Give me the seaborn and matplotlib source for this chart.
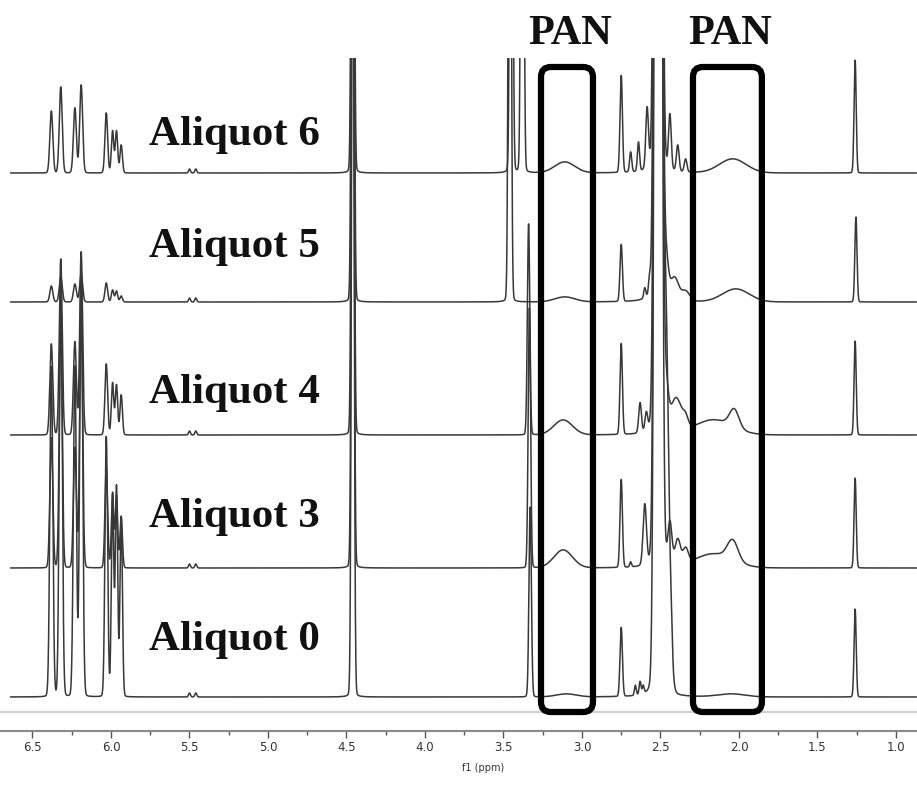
import numpy as np
import pandas as pd
import matplotlib
matplotlib.use("Agg")
import matplotlib.pyplot as plt
from matplotlib.patches import FancyBboxPatch
from matplotlib.ticker import MultipleLocator, FormatStrFormatter
import seaborn as sns

# ---------------------------------------------------------------------------
# 1H NMR peak tables for each aliquot: (shift / ppm, height, FWHM / ppm)
# ---------------------------------------------------------------------------
ALIQUOTS = ["Aliquot 0", "Aliquot 3", "Aliquot 4", "Aliquot 5", "Aliquot 6"]

PEAKS_ALIQUOT_0 = [
    (6.38, 330, 0.022), (6.32, 420, 0.022), (6.23, 330, 0.022), (6.19, 430, 0.022),
    (6.03, 260, 0.020), (5.99, 200, 0.018), (5.965, 210, 0.018), (5.935, 180, 0.018),
    (5.50, 4, 0.014), (5.46, 4, 0.014),
    (4.46, 900, 0.018),
    (3.33, 190, 0.018),
    (3.10, 3, 0.15), (2.05, 3, 0.20),
    (2.75, 69, 0.018), (2.66, 10, 0.014), (2.63, 13, 0.014), (2.61, 8, 0.014),
    (2.515, 3500, 0.035), (2.47, 400, 0.05), (2.43, 18, 0.015),
    (1.26, 88, 0.016),
]

PEAKS_ALIQUOT_3 = [
    (6.38, 130, 0.022), (6.32, 250, 0.022), (6.23, 120, 0.022), (6.19, 260, 0.022),
    (6.03, 101, 0.020), (5.99, 75, 0.018), (5.965, 72, 0.018), (5.935, 51, 0.018),
    (5.50, 4, 0.014), (5.46, 4, 0.014),
    (4.46, 900, 0.018),
    (3.335, 260, 0.018),
    (3.12, 18, 0.14), (2.16, 14, 0.28), (2.04, 20, 0.08),
    (2.75, 88, 0.018), (2.69, 5, 0.014), (2.60, 60, 0.025),
    (2.515, 3500, 0.035), (2.44, 41, 0.03), (2.39, 25, 0.04), (2.34, 15, 0.04),
    (1.26, 90, 0.016),
]

PEAKS_ALIQUOT_4 = [
    (6.38, 91, 0.022), (6.32, 176, 0.022), (6.23, 93, 0.022), (6.19, 183, 0.022),
    (6.03, 71, 0.020), (5.99, 52, 0.018), (5.965, 50, 0.018), (5.935, 40, 0.018),
    (5.50, 4, 0.014), (5.46, 4, 0.014),
    (4.46, 900, 0.018),
    (3.34, 211, 0.018),
    (3.12, 15, 0.14), (2.16, 15, 0.28), (2.03, 18, 0.07),
    (2.75, 91, 0.018), (2.63, 30, 0.02), (2.59, 18, 0.02),
    (2.515, 3500, 0.035), (2.47, 50, 0.04), (2.40, 33, 0.08), (2.34, 10, 0.04),
    (1.26, 94, 0.016),
]

PEAKS_ALIQUOT_5 = [
    (6.38, 16, 0.022), (6.32, 25, 0.022), (6.23, 18, 0.022), (6.19, 28, 0.022),
    (6.03, 19, 0.020), (5.99, 12, 0.018), (5.965, 11, 0.018), (5.935, 6, 0.018),
    (5.50, 4, 0.014), (5.46, 4, 0.014),
    (4.46, 900, 0.018),
    (3.46, 900, 0.018),
    (3.11, 5, 0.15), (2.02, 13, 0.20),
    (2.75, 57, 0.018), (2.60, 10, 0.015), (2.57, 15, 0.015),
    (2.515, 3500, 0.035), (2.47, 45, 0.04), (2.41, 22, 0.06), (2.34, 10, 0.06),
    (1.255, 85, 0.016),
]

PEAKS_ALIQUOT_6 = [
    (6.38, 62, 0.022), (6.32, 86, 0.022), (6.23, 65, 0.022), (6.19, 88, 0.022),
    (6.03, 60, 0.020), (5.99, 42, 0.018), (5.965, 42, 0.018), (5.935, 28, 0.018),
    (5.50, 4, 0.014), (5.46, 4, 0.014),
    (4.46, 900, 0.018),
    (3.45, 900, 0.018), (3.38, 900, 0.018),
    (3.11, 11, 0.15), (2.04, 14, 0.20),
    (2.75, 97, 0.018), (2.69, 20, 0.016), (2.64, 29, 0.016), (2.585, 60, 0.02),
    (2.515, 3500, 0.035), (2.44, 54, 0.02), (2.39, 26, 0.02), (2.34, 13, 0.02),
    (1.26, 113, 0.016),
]

PEAK_TABLES = [PEAKS_ALIQUOT_0, PEAKS_ALIQUOT_3, PEAKS_ALIQUOT_4,
               PEAKS_ALIQUOT_5, PEAKS_ALIQUOT_6]

# boxed PAN regions (ppm, high -> low)
PAN_REGIONS = [(3.261, 2.930), (2.293, 1.854)]
PAN_LABEL = "PAN"

# ---------------------------------------------------------------------------
# layout
# ---------------------------------------------------------------------------
STACK_OFFSETS = [36, 165, 298, 431, 560]        # vertical offset of each trace
LABEL_BASELINES = [83, 206, 330, 476, 588]      # text baseline of each label
LABEL_PPM = 5.76
X_LEFT, X_RIGHT = 6.707, 0.866
Y_TOP = 675
LINE_COLOR = "#383838"


def pseudo_voigt(x, center, height, fwhm, eta=0.03):
    sigma = fwhm / 2.3548
    gamma = fwhm / 2.0
    gauss = np.exp(-0.5 * ((x - center) / sigma) ** 2)
    lorentz = gamma ** 2 / ((x - center) ** 2 + gamma ** 2)
    return height * ((1.0 - eta) * gauss + eta * lorentz)


ppm = np.linspace(6.64, 0.87, 6000)
frames = []
for name, table, offset in zip(ALIQUOTS, PEAK_TABLES, STACK_OFFSETS):
    intensity = np.zeros_like(ppm)
    for center, height, fwhm in table:
        intensity += pseudo_voigt(ppm, center, height, fwhm)
    frames.append(pd.DataFrame({"ppm": ppm, "intensity": intensity + offset,
                                "aliquot": name}))
spectra = pd.concat(frames, ignore_index=True)

sns.set_theme(style="white")
plt.rcParams["font.family"] = ["DejaVu Sans"]

fig = plt.figure(figsize=(9.17, 7.93), dpi=100)
ax = fig.add_axes([0.0, 62 / 793, 1.0, (Y_TOP - 2) / 793])

sns.lineplot(data=spectra, x="ppm", y="intensity", hue="aliquot",
             hue_order=ALIQUOTS, palette=[LINE_COLOR] * len(ALIQUOTS),
             estimator=None, sort=False, legend=False, linewidth=1.1, ax=ax)

ax.set_xlim(X_LEFT, X_RIGHT)
ax.set_ylim(2, Y_TOP)
ax.axhline(21, color="#cfcfcf", lw=1.6, zorder=0)

# PAN boxes with rounded corners
px_per_ppm = 157.0
radius_ppm = 10 / px_per_ppm
for hi, lo in PAN_REGIONS:
    box = FancyBboxPatch((lo, 21), hi - lo, 666 - 21,
                         boxstyle=f"round,pad=0,rounding_size={radius_ppm}",
                         mutation_aspect=px_per_ppm, fill=False,
                         edgecolor="black", linewidth=4.5, zorder=5)
    ax.add_patch(box)
    ax.text((hi + lo) / 2 - 0.02, 689, PAN_LABEL, ha="center", va="baseline",
            fontsize=30.5, fontweight="bold", family="Liberation Serif",
            color="#111111", clip_on=False)

for name, yb in zip(ALIQUOTS, LABEL_BASELINES):
    ax.text(LABEL_PPM, yb, name, ha="left", va="baseline", fontsize=31,
            fontweight="bold", family="Liberation Serif", color="#111111",
            zorder=6)

# axis styling
for side in ("left", "top", "right"):
    ax.spines[side].set_visible(False)
ax.spines["bottom"].set_color("#8a8a8a")
ax.spines["bottom"].set_linewidth(1.5)
ax.set_yticks([])
ax.set_ylabel("")
ax.xaxis.set_major_locator(MultipleLocator(0.5))
ax.xaxis.set_minor_locator(MultipleLocator(0.25))
ax.xaxis.set_major_formatter(FormatStrFormatter("%.1f"))
ax.tick_params(axis="x", which="major", direction="out", length=5, width=1,
               color="#555555", labelsize=8.5, labelcolor="#333333", pad=2.5,
               bottom=True)
ax.tick_params(axis="x", which="minor", direction="out", length=3, width=1,
               color="#555555", bottom=True)
ax.set_xlabel("f1 (ppm)", fontsize=7, color="#333333")
ax.xaxis.set_label_coords(483 / 917, -32 / Y_TOP)

fig.savefig("out.png", dpi=100)
